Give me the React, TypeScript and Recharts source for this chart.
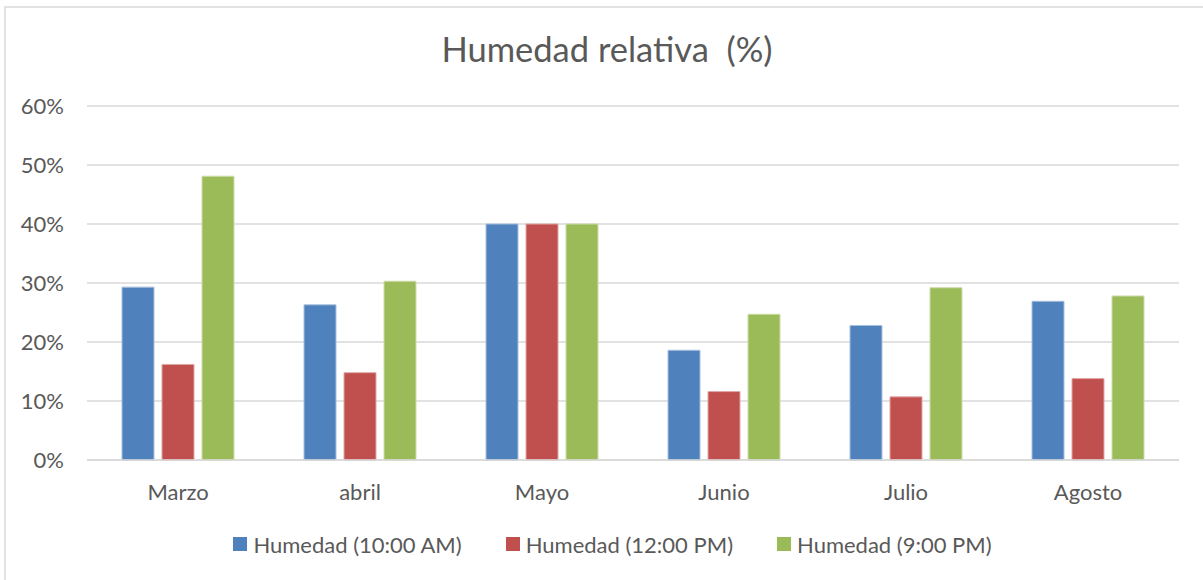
import React from 'react';
import { BarChart, Bar, XAxis, YAxis, CartesianGrid, Legend } from 'recharts';

const months = ['Marzo', 'abril', 'Mayo', 'Junio', 'Julio', 'Agosto'];
const humedad10am = [0.293, 0.263, 0.4, 0.186, 0.228, 0.269];
const humedad12pm = [0.162, 0.148, 0.4, 0.116, 0.107, 0.138];
const humedad9pm = [0.481, 0.303, 0.4, 0.247, 0.292, 0.278];
const yTicks = [0, 0.1, 0.2, 0.3, 0.4, 0.5, 0.6];

const seriesNames = ['Humedad (10:00 AM)', 'Humedad (12:00 PM)', 'Humedad (9:00 PM)'];
const seriesColors = ['#4F81BD', '#C0504D', '#9BBB59'];

const data = months.map((m, i) => ({
  month: m,
  a: humedad10am[i],
  b: humedad12pm[i],
  c: humedad9pm[i],
}));

const FONT = 'Lato, "Noto Sans", sans-serif';
const TEXT = '#595959';

function LegendBox() {
  return (
    <div style={{ display: 'flex', justifyContent: 'center', alignItems: 'center', height: 40, fontFamily: FONT, fontSize: 22, color: TEXT, transform: 'translate(23px, 4px)' }}>
      {seriesNames.map((n, i) => (
        <div key={n} style={{ display: 'flex', alignItems: 'center', marginRight: i < 2 ? 44 : 0 }}>
          <span style={{ width: 14, height: 14, background: seriesColors[i], display: 'inline-block', marginRight: 6 }} />
          <span>{n}</span>
        </div>
      ))}
    </div>
  );
}

export default function App() {
  return (
    <div style={{ width: 1203, height: 580, background: '#fff' }}>
      <style>{'body{margin:0}'}</style>
      <BarChart width={1203} height={580} data={data} margin={{ top: 106, right: 24, left: 0, bottom: 20 }} barSize={32} barGap={8}>
        <rect x={5} y={7} width={1230} height={600} fill="none" stroke="#D9D9D9" strokeWidth={1.5} />
        <text x={607} y={62} textAnchor="middle" style={{ whiteSpace: 'pre' }} fontFamily={FONT} fontSize={34.5} fill={TEXT}>
          {'Humedad relativa  (%)'}
        </text>
        <CartesianGrid vertical={false} stroke="#D9D9D9" strokeWidth={1.5} />
        <XAxis dataKey="month" height={60} tickLine={false} tickSize={0} tickMargin={24} axisLine={{ stroke: '#D9D9D9', strokeWidth: 1.5 }} tick={{ fontFamily: FONT, fontSize: 22, fill: TEXT }} />
        <YAxis width={87} domain={[0, 0.6]} ticks={yTicks} tickFormatter={(v: number) => `${Math.round(v * 100)}%`} axisLine={false} tickLine={false} tickSize={0} tickMargin={23} tick={{ fontFamily: FONT, fontSize: 22, fill: TEXT }} />
        <Legend verticalAlign="bottom" content={() => <LegendBox />} />
        <Bar dataKey="a" name={seriesNames[0]} fill={seriesColors[0]} stroke="#A7C0DE" strokeWidth={1} isAnimationActive={false} />
        <Bar dataKey="b" name={seriesNames[1]} fill={seriesColors[1]} stroke="#DFA7A6" strokeWidth={1} isAnimationActive={false} />
        <Bar dataKey="c" name={seriesNames[2]} fill={seriesColors[2]} stroke="#CDDDAC" strokeWidth={1} isAnimationActive={false} />
      </BarChart>
    </div>
  );
}
